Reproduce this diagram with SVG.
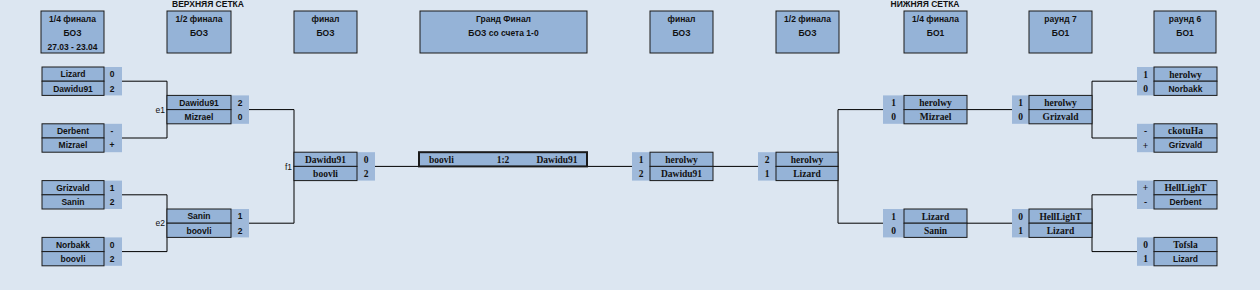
<svg xmlns="http://www.w3.org/2000/svg" width="1260" height="290" viewBox="0 0 1260 290">
<style>
.bg{fill:#dce6f1}
.hb{fill:#95b3d7;stroke:#1a1a1a;stroke-width:1}
.nb{fill:#95b3d7;stroke:#1a1a1a;stroke-width:1}
.sc{fill:#9fb9da}
.gf{fill:#95b3d7;stroke:#1a1a1a;stroke-width:2}
.ln{fill:none;stroke:#000;stroke-width:1}
text{fill:#111;text-anchor:middle}
.h{font-family:"Liberation Sans",Arial,sans-serif;font-size:8.5px;font-weight:bold}
.s{font-family:"Liberation Sans",Arial,sans-serif;font-size:8.5px;font-weight:bold}
.r{font-family:"Liberation Serif","Times New Roman",serif;font-size:9.5px;font-weight:bold}
.lb{font-family:"Liberation Sans",Arial,sans-serif;font-size:8.5px;text-anchor:end}
</style>
<rect class="bg" x="0" y="0" width="1260" height="290"/>

<g id="headers">
<text class="h" x="208" y="7">ВЕРХНЯЯ СЕТКА</text>
<text class="h" x="925" y="7">НИЖНЯЯ СЕТКА</text>
<g id="h-q-left"><rect class="hb" x="41" y="11" width="63" height="42"/><text class="h" x="72.5" y="22">1/4 финала</text><text class="h" x="72.5" y="36">БОЗ</text><text class="h" x="72.5" y="50">27.03 - 23.04</text></g>
<g id="h-s-left"><rect class="hb" x="167" y="11" width="64" height="42"/><text class="h" x="199" y="22">1/2 финала</text><text class="h" x="199" y="36">БОЗ</text></g>
<g id="h-f-left"><rect class="hb" x="294" y="11" width="63" height="42"/><text class="h" x="325.5" y="22">финал</text><text class="h" x="325.5" y="36">БОЗ</text></g>
<g id="h-gf"><rect class="hb" x="420" y="11" width="167" height="42"/><text class="h" x="503.5" y="22">Гранд Финал</text><text class="h" x="503.5" y="36">БОЗ со счета 1-0</text></g>
<g id="h-f-right"><rect class="hb" x="650" y="11" width="63" height="42"/><text class="h" x="681.5" y="22">финал</text><text class="h" x="681.5" y="36">БОЗ</text></g>
<g id="h-s-right"><rect class="hb" x="776" y="11" width="63" height="42"/><text class="h" x="807.5" y="22">1/2 финала</text><text class="h" x="807.5" y="36">БОЗ</text></g>
<g id="h-q-right"><rect class="hb" x="904" y="11" width="63" height="42"/><text class="h" x="935.5" y="22">1/4 финала</text><text class="h" x="935.5" y="36">БО1</text></g>
<g id="h-r7"><rect class="hb" x="1029" y="11" width="63" height="42"/><text class="h" x="1060.5" y="22">раунд 7</text><text class="h" x="1060.5" y="36">БО1</text></g>
<g id="h-r6"><rect class="hb" x="1154" y="11" width="62" height="42"/><text class="h" x="1185" y="22">раунд 6</text><text class="h" x="1185" y="36">БО1</text></g>
</g>

<g id="connectors">
<path class="ln" d="M122,81.2 H167 V138 H122"/>
<path class="ln" d="M122,194.8 H167 V251.6 H122"/>
<path class="ln" d="M249,109.6 H294 V223.2 H249"/>
<path class="ln" d="M375,166.4 H632"/>
<path class="ln" d="M713,166.4 H758"/>
<path class="ln" d="M883,109.6 H838 V223.2 H883"/>
<path class="ln" d="M967,109.6 H1012"/>
<path class="ln" d="M967,223.2 H1012"/>
<path class="ln" d="M1137,81.2 H1092 V138 H1137"/>
<path class="ln" d="M1137,194.8 H1092 V251.6 H1137"/>
<text class="lb" x="165" y="113">e1</text>
<text class="lb" x="165" y="226">e2</text>
<text class="lb" x="292" y="170">f1</text>
</g>

<!-- left quarterfinals -->
<g id="m-l1">
<rect class="sc" x="104" y="67" width="18" height="28.4"/>
<rect class="nb" x="42" y="67" width="62" height="14.2"/><rect class="nb" x="42" y="81.2" width="62" height="14.2"/>
<text class="s" x="73" y="77.3">Lizard</text><text class="s" x="73" y="91.5">Dawidu91</text>
<text class="s" x="112" y="77.3">0</text><text class="s" x="112" y="91.5">2</text>
</g>
<g id="m-l2">
<rect class="sc" x="104" y="123.8" width="18" height="28.4"/>
<rect class="nb" x="42" y="123.8" width="62" height="14.2"/><rect class="nb" x="42" y="138" width="62" height="14.2"/>
<text class="s" x="73" y="134.1">Derbent</text><text class="s" x="73" y="148.3">Mizrael</text>
<text class="s" x="112" y="134.1">-</text><text class="s" x="112" y="148.3">+</text>
</g>
<g id="m-l3">
<rect class="sc" x="104" y="180.6" width="18" height="28.4"/>
<rect class="nb" x="42" y="180.6" width="62" height="14.2"/><rect class="nb" x="42" y="194.8" width="62" height="14.2"/>
<text class="s" x="73" y="190.9">Grizvald</text><text class="s" x="73" y="205.1">Sanin</text>
<text class="s" x="112" y="190.9">1</text><text class="s" x="112" y="205.1">2</text>
</g>
<g id="m-l4">
<rect class="sc" x="104" y="237.4" width="18" height="28.4"/>
<rect class="nb" x="42" y="237.4" width="62" height="14.2"/><rect class="nb" x="42" y="251.6" width="62" height="14.2"/>
<text class="s" x="73" y="247.7">Norbakk</text><text class="s" x="73" y="261.9">boovli</text>
<text class="s" x="112" y="247.7">0</text><text class="s" x="112" y="261.9">2</text>
</g>
<!-- left semis -->
<g id="m-e1">
<rect class="sc" x="231" y="95.4" width="18" height="28.4"/>
<rect class="nb" x="167" y="95.4" width="64" height="14.2"/><rect class="nb" x="167" y="109.6" width="64" height="14.2"/>
<text class="s" x="199" y="105.7">Dawidu91</text><text class="s" x="199" y="119.9">Mizrael</text>
<text class="s" x="240" y="105.7">2</text><text class="s" x="240" y="119.9">0</text>
</g>
<g id="m-e2">
<rect class="sc" x="231" y="209" width="18" height="28.4"/>
<rect class="nb" x="167" y="209" width="64" height="14.2"/><rect class="nb" x="167" y="223.2" width="64" height="14.2"/>
<text class="s" x="199" y="219.3">Sanin</text><text class="s" x="199" y="233.5">boovli</text>
<text class="s" x="240" y="219.3">1</text><text class="s" x="240" y="233.5">2</text>
</g>
<!-- left final -->
<g id="m-f1">
<rect class="sc" x="357" y="152.2" width="18" height="28.4"/>
<rect class="nb" x="294" y="152.2" width="63" height="14.2"/><rect class="nb" x="294" y="166.4" width="63" height="14.2"/>
<text class="r" x="325.5" y="162.8">Dawidu91</text><text class="r" x="325.5" y="177">boovli</text>
<text class="r" x="366" y="162.8">0</text><text class="r" x="366" y="177">2</text>
</g>
<!-- grand final -->
<g id="m-gf">
<rect class="gf" x="419" y="152.2" width="168" height="14.2"/>
<text class="r" x="429" y="162.8" style="text-anchor:start">boovli</text>
<text class="r" x="503" y="162.8">1:2</text>
<text class="r" x="557" y="162.8">Dawidu91</text>
</g>
<!-- right final -->
<g id="m-rf">
<rect class="sc" x="632" y="152.2" width="18" height="28.4"/>
<rect class="nb" x="650" y="152.2" width="63" height="14.2"/><rect class="nb" x="650" y="166.4" width="63" height="14.2"/>
<text class="r" x="681.5" y="162.8">herolwy</text><text class="r" x="681.5" y="177">Dawidu91</text>
<text class="r" x="641" y="162.8">1</text><text class="r" x="641" y="177">2</text>
</g>
<!-- right semi -->
<g id="m-rs">
<rect class="sc" x="758" y="152.2" width="18" height="28.4"/>
<rect class="nb" x="776" y="152.2" width="62" height="14.2"/><rect class="nb" x="776" y="166.4" width="62" height="14.2"/>
<text class="r" x="807" y="162.8">herolwy</text><text class="r" x="807" y="177">Lizard</text>
<text class="r" x="767" y="162.8">2</text><text class="r" x="767" y="177">1</text>
</g>
<!-- right quarterfinals -->
<g id="m-rq1">
<rect class="sc" x="883" y="95.4" width="21" height="28.4"/>
<rect class="nb" x="904" y="95.4" width="63" height="14.2"/><rect class="nb" x="904" y="109.6" width="63" height="14.2"/>
<text class="r" x="935.5" y="106">herolwy</text><text class="r" x="935.5" y="120.2">Mizrael</text>
<text class="r" x="893.5" y="106">1</text><text class="r" x="893.5" y="120.2">0</text>
</g>
<g id="m-rq2">
<rect class="sc" x="883" y="209" width="21" height="28.4"/>
<rect class="nb" x="904" y="209" width="63" height="14.2"/><rect class="nb" x="904" y="223.2" width="63" height="14.2"/>
<text class="r" x="935.5" y="219.6">Lizard</text><text class="r" x="935.5" y="233.8">Sanin</text>
<text class="r" x="893.5" y="219.6">1</text><text class="r" x="893.5" y="233.8">0</text>
</g>
<!-- round 7 -->
<g id="m-r7a">
<rect class="sc" x="1012" y="95.4" width="17" height="28.4"/>
<rect class="nb" x="1029" y="95.4" width="63" height="14.2"/><rect class="nb" x="1029" y="109.6" width="63" height="14.2"/>
<text class="r" x="1060.5" y="106">herolwy</text><text class="r" x="1060.5" y="120.2">Grizvald</text>
<text class="r" x="1020.5" y="106">1</text><text class="r" x="1020.5" y="120.2">0</text>
</g>
<g id="m-r7b">
<rect class="sc" x="1012" y="209" width="17" height="28.4"/>
<rect class="nb" x="1029" y="209" width="63" height="14.2"/><rect class="nb" x="1029" y="223.2" width="63" height="14.2"/>
<text class="r" x="1060.5" y="219.6">HellLighT</text><text class="r" x="1060.5" y="233.8">Lizard</text>
<text class="r" x="1020.5" y="219.6">0</text><text class="r" x="1020.5" y="233.8">1</text>
</g>
<!-- round 6 -->
<g id="m-r6a">
<rect class="sc" x="1137" y="67" width="17" height="28.4"/>
<rect class="nb" x="1154" y="67" width="63" height="14.2"/><rect class="nb" x="1154" y="81.2" width="63" height="14.2"/>
<text class="r" x="1185.5" y="77.6">herolwy</text><text class="s" x="1185.5" y="91.5">Norbakk</text>
<text class="r" x="1145.5" y="77.6">1</text><text class="r" x="1145.5" y="91.8">0</text>
</g>
<g id="m-r6b">
<rect class="sc" x="1137" y="123.8" width="17" height="28.4"/>
<rect class="nb" x="1154" y="123.8" width="63" height="14.2"/><rect class="nb" x="1154" y="138" width="63" height="14.2"/>
<text class="r" x="1185.5" y="134.4">ckotuHa</text><text class="s" x="1185.5" y="148.3">Grizvald</text>
<text class="r" x="1145.5" y="134.4">-</text><text class="r" x="1145.5" y="148.6">+</text>
</g>
<g id="m-r6c">
<rect class="sc" x="1137" y="180.6" width="17" height="28.4"/>
<rect class="nb" x="1154" y="180.6" width="63" height="14.2"/><rect class="nb" x="1154" y="194.8" width="63" height="14.2"/>
<text class="r" x="1185.5" y="191.2">HellLighT</text><text class="s" x="1185.5" y="205.1">Derbent</text>
<text class="r" x="1145.5" y="191.2">+</text><text class="r" x="1145.5" y="205.4">-</text>
</g>
<g id="m-r6d">
<rect class="sc" x="1137" y="237.4" width="17" height="28.4"/>
<rect class="nb" x="1154" y="237.4" width="63" height="14.2"/><rect class="nb" x="1154" y="251.6" width="63" height="14.2"/>
<text class="r" x="1185.5" y="248">Tofsla</text><text class="s" x="1185.5" y="261.9">Lizard</text>
<text class="r" x="1145.5" y="248">0</text><text class="r" x="1145.5" y="262.2">1</text>
</g>
</svg>
